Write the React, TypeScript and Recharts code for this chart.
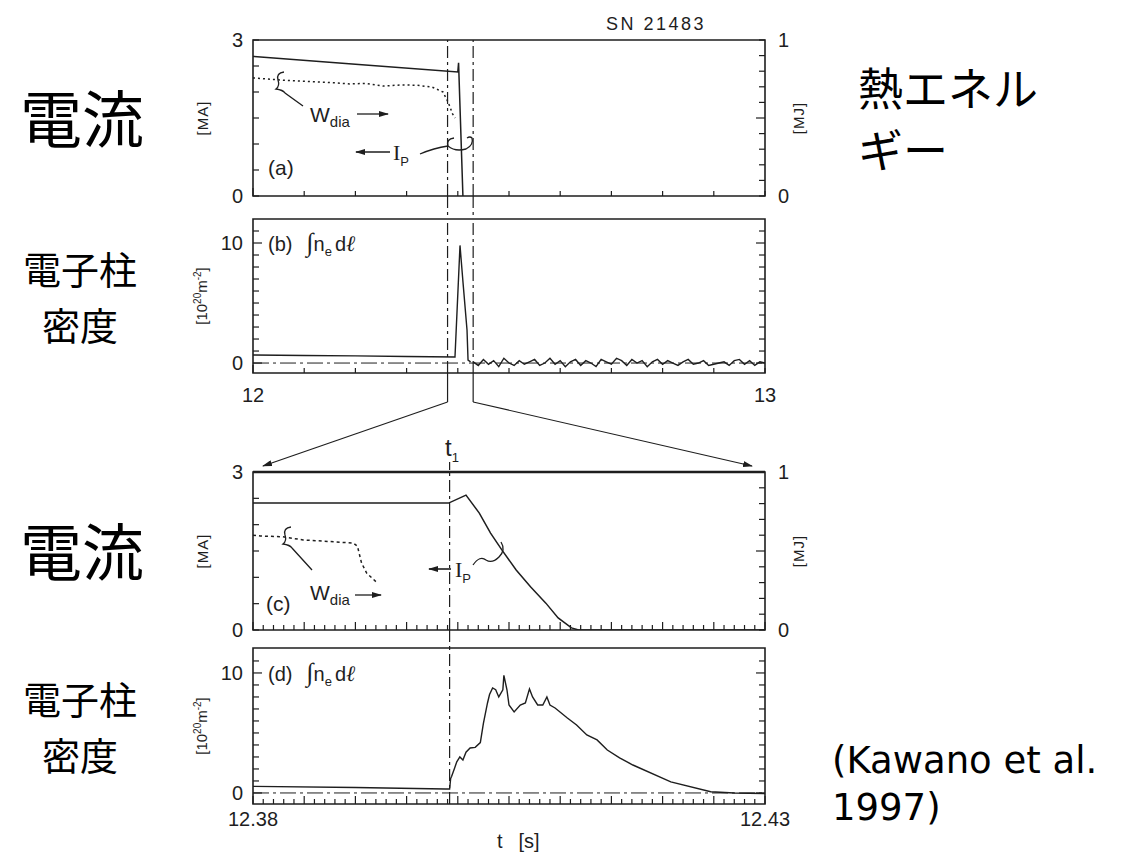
import { LineChart, Line, XAxis, YAxis, ReferenceLine, ReferenceArea } from 'recharts'

const INK = '#1e1e1e'
const SANS = '"Liberation Sans", Arial, sans-serif'
const SERIF = '"Liberation Serif", serif'
const CJK = '"Noto Sans CJK JP", sans-serif'

const PLOT_LEFT = 253
const PLOT_WIDTH = 512

// time windows [s]
const fullDomain: [number, number] = [12, 13]
const zoomDomain: [number, number] = [12.38, 12.43]
const t1 = 12.3992

// (a) plasma current [MA] and diamagnetic energy [MJ], full shot
const ipFullT = [12.0, 12.2, 12.4, 12.4015, 12.41]
const ipFullMA = [2.685, 2.535, 2.385, 2.56, 0]
const wdiaFullT = [12.0, 12.06, 12.125, 12.16, 12.189, 12.22, 12.254, 12.29, 12.32, 12.35, 12.371, 12.379, 12.385, 12.389, 12.395]
const wdiaFullMJ = [0.757, 0.742, 0.731, 0.726, 0.718, 0.722, 0.705, 0.712, 0.71, 0.698, 0.667, 0.615, 0.57, 0.53, 0.5]

// (b) line integrated density [1e20 m^-2], full shot
const neFullT = [12.0, 12.1, 12.2, 12.3, 12.3945, 12.4043, 12.4102, 12.418, 12.42, 12.425]
const neFullV = [0.67, 0.63, 0.6, 0.55, 0.5, 9.8, 6.7, 2.75, 0.25, 0.1]
const neNoiseStart = 12.43
const neNoiseStep = 0.01
const neNoise = [
  0.1, -0.2, 0.3, -0.1, 0.2, -0.3, 0.4, 0.0, -0.2, 0.2,
  -0.1, 0.1, 0.3, -0.2, 0.0, 0.4, -0.1, 0.2, -0.3, 0.1,
  0.3, -0.2, 0.2, 0.0, -0.3, 0.3, 0.1, -0.1, 0.4, 0.2,
  -0.2, 0.3, 0.0, 0.2, -0.3, 0.1, 0.3, -0.1, 0.2, 0.0,
  -0.2, 0.1, 0.3, -0.1, 0.0, 0.2, -0.2, -0.1, 0.0, 0.1,
  -0.2, 0.2, 0.3, -0.1, 0.2, -0.2, 0.1, 0.0,
]

// (c) zoomed current and energy
const ipZoomT = [12.38, 12.3991, 12.4008, 12.4021, 12.4032, 12.4043, 12.4057, 12.4071, 12.4086, 12.4098, 12.4111, 12.4118, 12.43]
const ipZoomMA = [2.41, 2.41, 2.56, 2.22, 1.84, 1.52, 1.14, 0.82, 0.51, 0.23, 0.04, 0, 0]
const wdiaZoomT = [12.38, 12.3807, 12.3829, 12.3849, 12.3875, 12.3898, 12.3902, 12.3906, 12.3911, 12.3916, 12.3921]
const wdiaZoomMJ = [0.6, 0.595, 0.59, 0.57, 0.56, 0.55, 0.53, 0.424, 0.36, 0.33, 0.3]

// (d) zoomed density
const neZoomT = [
  12.38, 12.39, 12.3988, 12.3992, 12.3993, 12.3994, 12.3997, 12.3999, 12.4002, 12.4005,
  12.4008, 12.4012, 12.4017, 12.4022, 12.4025, 12.4029, 12.4031, 12.4034, 12.4037, 12.404,
  12.4044, 12.4045, 12.4048, 12.405, 12.4055, 12.4061, 12.4066, 12.407, 12.4073, 12.4078,
  12.4083, 12.4087, 12.409, 12.4095, 12.4107, 12.4116, 12.4126, 12.4136, 12.4146, 12.4158,
  12.4171, 12.4208, 12.4247, 12.427, 12.43,
]
const neZoomV = [
  0.55, 0.45, 0.33, 0.33, 1.2, 1.4, 2.1, 2.6, 3.0, 2.75,
  3.4, 3.75, 3.8, 4.2, 5.8, 7.5, 8.2, 8.75, 8.6, 8.0,
  8.6, 9.8, 8.6, 7.33, 6.75, 7.33, 7.5, 8.67, 8.0, 7.33,
  7.33, 8.0, 7.33, 7.08, 6.25, 5.67, 4.83, 4.42, 3.58, 2.92,
  2.33, 0.92, 0.1, 0.0, -0.05,
]

// axis ticks
const fullTicks = [12.0, 12.1, 12.2, 12.3, 12.4, 12.5, 12.6, 12.7, 12.8, 12.9, 13.0]
const zoomTicks = Array.from({ length: 51 }, (_, i) => 12.38 + i * 0.001)
const maTicks = [0, 0.5, 1, 1.5, 2, 2.5, 3]
const mjTicks = [0, 0.1, 0.2, 0.3, 0.4, 0.5, 0.6, 0.7, 0.8, 0.9, 1]
const neTicks = [0, 1, 2, 3, 4, 5, 6, 7, 8, 9, 10, 11]

const pts = (ts: number[], vs: number[]) => ts.map((t, i) => ({ t, v: vs[i] }))
const noisePts = neNoise.map((v, i) => ({ t: neNoiseStart + i * neNoiseStep, v }))

const xPix = (t: number, d: [number, number]) => PLOT_LEFT + ((t - d[0]) / (d[1] - d[0])) * PLOT_WIDTH

interface Series {
  data: { t: number; v: number }[]
  axis: 'l' | 'r'
  dash?: string
  width?: number
}

interface PanelProps {
  top: number
  height: number
  xDomain: [number, number]
  xTicks: number[]
  xMajorEvery: number
  xLabels?: [string, string]
  xLabelDy?: number
  lDomain: [number, number]
  lTicks: number[]
  lLabels: [number, string][]
  rDomain: [number, number]
  rTicks: number[]
  rLabels: [number, string][]
  rMajor?: number[]
  lMajor?: number[]
  series: Series[]
  vLines: number[]
  zeroLine?: boolean
  topWidth?: number
}

const findLabel = (list: [number, string][], v: number) => {
  const hit = list.find(([k]) => Math.abs(k - v) < 1e-6)
  return hit ? hit[1] : null
}

function Panel(p: PanelProps) {
  const mt = 20
  const mb = 20
  const xTick = (props: any) => {
    const { x, y, index } = props
    const last = p.xTicks.length - 1
    const len = index % p.xMajorEvery === 0 ? 8 : 5
    let label: string | null = null
    if (p.xLabels && index === 0) label = p.xLabels[0]
    if (p.xLabels && index === last) label = p.xLabels[1]
    return (
      <g>
        <line x1={x} x2={x} y1={y} y2={y - len} stroke={INK} strokeWidth={1.2} />
        {label && (
          <text x={x} y={y + (p.xLabelDy ?? 28)} textAnchor="middle" fontSize={20} fill={INK} fontFamily={SANS}>
            {label}
          </text>
        )}
      </g>
    )
  }
  const lTick = (props: any) => {
    const { x, y, payload } = props
    const label = findLabel(p.lLabels, payload.value)
    const major = (p.lMajor ?? []).some((m) => Math.abs(m - payload.value) < 1e-6)
    return (
      <g>
        <line x1={x} x2={x + (major ? 9 : 6)} y1={y} y2={y} stroke={INK} strokeWidth={1.2} />
        {label && (
          <text x={x - 10} y={y + 7} textAnchor="end" fontSize={20} fill={INK} fontFamily={SANS}>
            {label}
          </text>
        )}
      </g>
    )
  }
  const rTick = (props: any) => {
    const { x, y, payload } = props
    const label = findLabel(p.rLabels, payload.value)
    const major = (p.rMajor ?? []).some((m) => Math.abs(m - payload.value) < 1e-6)
    return (
      <g>
        <line x1={x} x2={x - (major ? 9 : 6)} y1={y} y2={y} stroke={INK} strokeWidth={1.2} />
        {label && (
          <text x={x + 13} y={y + 7} textAnchor="start" fontSize={20} fill={INK} fontFamily={SANS}>
            {label}
          </text>
        )}
      </g>
    )
  }
  return (
    <div style={{ position: 'absolute', left: 0, top: p.top - mt }}>
      <LineChart
        width={1125}
        height={p.height + mt + 30 + mb}
        margin={{ top: mt, right: 1125 - PLOT_LEFT - PLOT_WIDTH - 40, bottom: mb, left: PLOT_LEFT - 40 }}
      >
        <XAxis
          type="number"
          dataKey="t"
          domain={p.xDomain}
          allowDataOverflow
          ticks={p.xTicks}
          interval={0}
          height={30}
          axisLine={false}
          tickLine={false}
          tickSize={0}
          tickMargin={0}
          tick={xTick}
        />
        <YAxis
          yAxisId="l"
          type="number"
          domain={p.lDomain}
          allowDataOverflow
          ticks={p.lTicks}
          interval={0}
          width={40}
          axisLine={false}
          tickLine={false}
          tickSize={0}
          tickMargin={0}
          tick={lTick}
        />
        <YAxis
          yAxisId="r"
          orientation="right"
          type="number"
          domain={p.rDomain}
          allowDataOverflow
          ticks={p.rTicks}
          interval={0}
          width={40}
          axisLine={false}
          tickLine={false}
          tickSize={0}
          tickMargin={0}
          tick={rTick}
        />
        <ReferenceArea
          yAxisId="l"
          x1={p.xDomain[0]}
          x2={p.xDomain[1]}
          y1={p.lDomain[0]}
          y2={p.lDomain[1]}
          fill="none"
          stroke={INK}
          strokeWidth={1.6}
          fillOpacity={0}
        />
        {p.topWidth && (
          <ReferenceLine yAxisId="l" y={p.lDomain[1]} stroke={INK} strokeWidth={p.topWidth} />
        )}
        {p.zeroLine && (
          <ReferenceLine yAxisId="l" y={0} stroke={INK} strokeWidth={1} strokeDasharray="16 4 3 4" />
        )}
        {p.vLines.map((v) => (
          <ReferenceLine key={v} yAxisId="l" x={v} stroke={INK} strokeWidth={1.2} strokeDasharray="12 4 3 4" />
        ))}
        {p.series.map((s, i) => (
          <Line
            key={i}
            data={s.data}
            dataKey="v"
            yAxisId={s.axis}
            type="linear"
            stroke={INK}
            strokeWidth={s.width ?? 1.4}
            strokeDasharray={s.dash}
            dot={false}
            activeDot={false}
            isAnimationActive={false}
          />
        ))}
      </LineChart>
    </div>
  )
}

function WLabel({ x, y }: { x: number; y: number }) {
  return (
    <text x={x} y={y} fontSize={21} fill={INK} fontFamily={SANS}>
      W
      <tspan fontSize={15} dy={5}>dia</tspan>
    </text>
  )
}

function IpLabel({ x, y }: { x: number; y: number }) {
  return (
    <text x={x} y={y} fontSize={22} fill={INK} fontFamily={SERIF}>
      I
      <tspan fontSize={13} dy={6} fontFamily={SANS}>P</tspan>
    </text>
  )
}

function NeLabel({ x, y, tag }: { x: number; y: number; tag: string }) {
  return (
    <text x={x} y={y} fontSize={20} fill={INK} fontFamily={SANS}>
      {tag}
      <tspan dx={14} fontSize={26} fontFamily={SERIF}>∫</tspan>
      <tspan>n</tspan>
      <tspan fontSize={13} dy={5}>e</tspan>
      <tspan dy={-5} dx={3}>d</tspan>
      <tspan fontStyle="italic" fontFamily={SERIF} fontSize={22}>ℓ</tspan>
    </text>
  )
}

function Overlay() {
  const a = xPix(zoomDomain[0], fullDomain)
  const b = xPix(zoomDomain[1], fullDomain)
  const tx = xPix(t1, zoomDomain)
  const jp = { fontFamily: CJK, fill: '#000' }
  return (
    <svg width={1125} height={861} style={{ position: 'absolute', left: 0, top: 0, pointerEvents: 'none' }}>
      <defs>
        <marker id="ah" markerWidth={10} markerHeight={6} refX={9} refY={3} orient="auto" markerUnits="userSpaceOnUse">
          <path d="M0,0 L10,3 L0,6 z" fill={INK} />
        </marker>
      </defs>

      <text x={606} y={30} fontSize={18} letterSpacing={2.5} fill={INK} fontFamily={SANS}>SN 21483</text>

      {/* dash-dot window markers between panels and zoom connectors */}
      {[a, b].map((x) => (
        <line key={x} x1={x} x2={x} y1={196} y2={219} stroke={INK} strokeWidth={1.2} strokeDasharray="12 4 3 4" />
      ))}
      <polyline points={`${a},373 ${a},402`} fill="none" stroke={INK} strokeWidth={1.2} />
      <polyline points={`${b},373 ${b},402`} fill="none" stroke={INK} strokeWidth={1.2} />
      <line x1={a} y1={402} x2={263} y2={466} stroke={INK} strokeWidth={1.2} markerEnd="url(#ah)" />
      <line x1={b} y1={402} x2={752} y2={466} stroke={INK} strokeWidth={1.2} markerEnd="url(#ah)" />

      <text x={445} y={456} fontSize={24} fill={INK} fontFamily={SANS}>
        t<tspan fontSize={13} dy={6}>1</tspan>
      </text>
      <line x1={tx} x2={tx} y1={462} y2={472} stroke={INK} strokeWidth={1.2} strokeDasharray="8 4" />
      <line x1={tx} x2={tx} y1={630} y2={648} stroke={INK} strokeWidth={1.2} strokeDasharray="12 4 3 4" />

      {/* panel (a) annotations */}
      <text x={268} y={175} fontSize={21} fill={INK} fontFamily={SANS}>(a)</text>
      <path d="M284 72 Q276 73 278 80 Q280 86 276 89 Q283 90 285 93 L303 106" fill="none" stroke={INK} strokeWidth={1.3} />
      <WLabel x={310} y={122} />
      <line x1={357} y1={114} x2={388} y2={114} stroke={INK} strokeWidth={1.3} markerEnd="url(#ah)" />
      <line x1={390} y1={152} x2={356} y2={152} stroke={INK} strokeWidth={1.6} markerEnd="url(#ah)" />
      <IpLabel x={393} y={160} />
      <path d="M420 154 Q434 148 448 146" fill="none" stroke={INK} strokeWidth={1.3} />
      <path d="M448 146 Q446 139 454 138 M448 146 Q455 152 466 149 Q474 145 472 138 Q470 136 467 138" fill="none" stroke={INK} strokeWidth={1.3} />

      {/* panel (b) / (d) labels */}
      <NeLabel x={268} y={251} tag="(b)" />
      <NeLabel x={268} y={681} tag="(d)" />

      {/* panel (c) annotations */}
      <text x={266} y={611} fontSize={21} fill={INK} fontFamily={SANS}>(c)</text>
      <path d="M291 527 Q283 528 285 535 Q287 541 283 544 Q290 545 292 548 L312 570" fill="none" stroke={INK} strokeWidth={1.3} />
      <WLabel x={310} y={600} />
      <line x1={355} y1={595} x2={381} y2={595} stroke={INK} strokeWidth={1.3} markerEnd="url(#ah)" />
      <line x1={451} y1={569} x2={429} y2={569} stroke={INK} strokeWidth={1.6} markerEnd="url(#ah)" />
      <IpLabel x={455} y={577} />
      <path d="M473 565 Q480 555 486 560 Q492 564 499 557 Q506 550 501 542" fill="none" stroke={INK} strokeWidth={1.3} />

      {/* unit labels */}
      <text transform="translate(208,118) rotate(-90)" textAnchor="middle" fontSize={15} letterSpacing={1} fill={INK} fontFamily={SANS}>[MA]</text>
      <text transform="translate(208,551) rotate(-90)" textAnchor="middle" fontSize={15} letterSpacing={1} fill={INK} fontFamily={SANS}>[MA]</text>
      <text transform="translate(804,118) rotate(-90)" textAnchor="middle" fontSize={15} letterSpacing={1} fill={INK} fontFamily={SANS}>[MJ]</text>
      <text transform="translate(804,551) rotate(-90)" textAnchor="middle" fontSize={15} letterSpacing={1} fill={INK} fontFamily={SANS}>[MJ]</text>
      {[296, 726].map((cy) => (
        <text key={cy} transform={`translate(207,${cy}) rotate(-90)`} textAnchor="middle" fontSize={15} fill={INK} fontFamily={SANS}>
          [10<tspan fontSize={10} dy={-6}>20</tspan>
          <tspan dy={6}>m</tspan>
          <tspan fontSize={10} dy={-6}>-2</tspan>
          <tspan dy={6}>]</tspan>
        </text>
      ))}

      {/* slide captions */}
      <text x={20} y={143} fontSize={62} {...jp}>電流</text>
      <text x={20} y={576} fontSize={62} {...jp}>電流</text>
      <text x={23} y={284} fontSize={38} {...jp}>電子柱</text>
      <text x={42} y={340} fontSize={38} {...jp}>密度</text>
      <text x={23} y={714} fontSize={38} {...jp}>電子柱</text>
      <text x={42} y={770} fontSize={38} {...jp}>密度</text>
      <text x={858} y={106} fontSize={45} {...jp}>熱エネル</text>
      <text x={858} y={168} fontSize={45} {...jp}>ギー</text>
      <text x={832} y={773} fontSize={37} fill="#000" fontFamily='"DejaVu Sans", sans-serif'>(Kawano et al.</text>
      <text x={832} y={820} fontSize={37} fill="#000" fontFamily='"DejaVu Sans", sans-serif'>1997)</text>

      <text x={497} y={848} fontSize={20} fill={INK} fontFamily={SANS}>
        t<tspan dx={16}>[s]</tspan>
      </text>
    </svg>
  )
}

export default function App() {
  return (
    <div style={{ position: 'absolute', left: 0, top: 0, width: 1125, height: 861, background: '#fff', overflow: 'hidden' }}>
      <Panel
        top={40}
        height={156}
        xDomain={fullDomain}
        xTicks={fullTicks}
        xMajorEvery={100}
        lDomain={[0, 3]}
        lTicks={maTicks}
        lLabels={[[0, '0'], [3, '3']]}
        rDomain={[0, 1]}
        rTicks={mjTicks}
        rMajor={[0.5]}
        rLabels={[[0, '0'], [1, '1']]}
        vLines={[zoomDomain[0], zoomDomain[1]]}
        series={[
          { data: pts(ipFullT, ipFullMA), axis: 'l', width: 1.5 },
          { data: pts(wdiaFullT, wdiaFullMJ), axis: 'r', dash: '2 3', width: 1.5 },
        ]}
      />
      <Panel
        top={219}
        height={154}
        xDomain={fullDomain}
        xTicks={fullTicks}
        xMajorEvery={100}
        xLabels={['12', '13']}
        xLabelDy={29}
        lDomain={[-0.83, 12]}
        lTicks={neTicks}
        lMajor={[0, 10]}
        lLabels={[[0, '0'], [10, '10']]}
        rDomain={[-0.83, 12]}
        rTicks={neTicks}
        rMajor={[0, 10]}
        rLabels={[]}
        zeroLine
        vLines={[zoomDomain[0], zoomDomain[1]]}
        series={[
          { data: pts(neFullT, neFullV), axis: 'l', width: 1.4 },
          { data: noisePts, axis: 'l', width: 1.4 },
        ]}
      />
      <Panel
        top={472}
        height={158}
        xDomain={zoomDomain}
        xTicks={zoomTicks}
        xMajorEvery={5}
        lDomain={[0, 3]}
        lTicks={maTicks}
        lLabels={[[0, '0'], [3, '3']]}
        rDomain={[0, 1]}
        rTicks={mjTicks}
        rMajor={[0.5]}
        rLabels={[[0, '0'], [1, '1']]}
        topWidth={2.6}
        vLines={[t1]}
        series={[
          { data: pts(ipZoomT, ipZoomMA), axis: 'l', width: 1.5 },
          { data: pts(wdiaZoomT, wdiaZoomMJ), axis: 'r', dash: '3 3', width: 1.5 },
        ]}
      />
      <Panel
        top={648}
        height={156}
        xDomain={zoomDomain}
        xTicks={zoomTicks}
        xMajorEvery={5}
        xLabels={['12.38', '12.43']}
        xLabelDy={22}
        lDomain={[-0.92, 12.08]}
        lTicks={neTicks}
        lMajor={[0, 10]}
        lLabels={[[0, '0'], [10, '10']]}
        rDomain={[-0.92, 12.08]}
        rTicks={neTicks}
        rMajor={[0, 10]}
        rLabels={[]}
        zeroLine
        vLines={[t1]}
        series={[{ data: pts(neZoomT, neZoomV), axis: 'l', width: 1.4 }]}
      />
      <Overlay />
    </div>
  )
}
